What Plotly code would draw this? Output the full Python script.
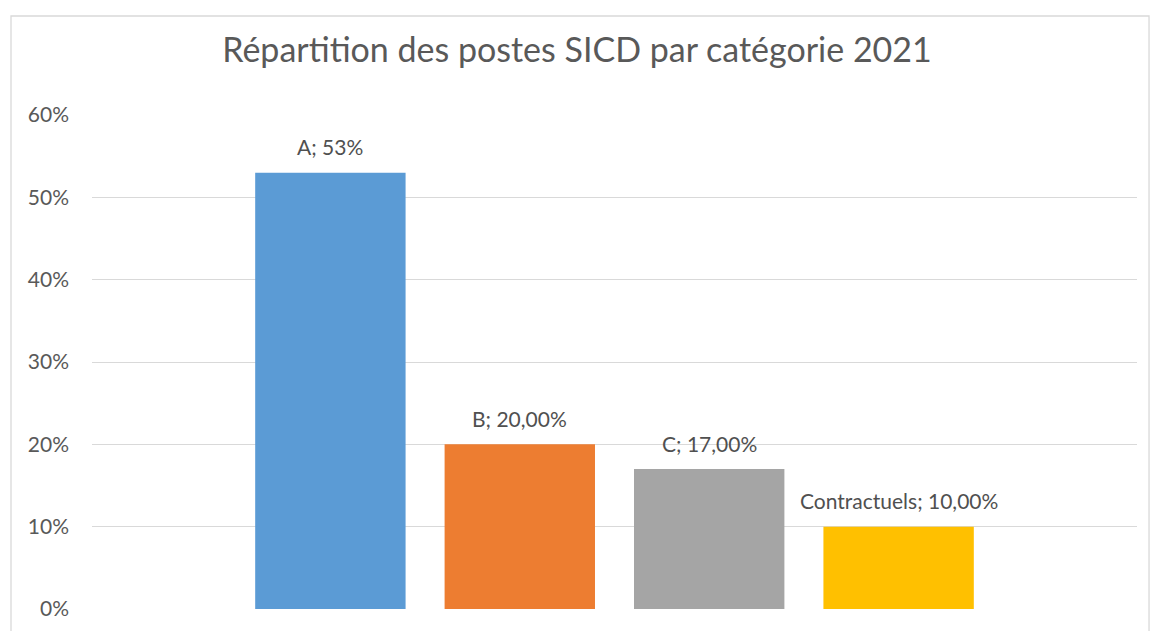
import plotly.graph_objects as go

categories = ["A", "B", "C", "Contractuels"]
values = [0.53, 0.20, 0.17, 0.10]
label_values = ["53%", "20,00%", "17,00%", "10,00%"]
colors = ["#5B9BD5", "#ED7D31", "#A5A5A5", "#FFC000"]
title_text = "Répartition des postes SICD par catégorie 2021"
tick_vals = [0, 0.1, 0.2, 0.3, 0.4, 0.5, 0.6]
tick_text = ["0%", "10%", "20%", "30%", "40%", "50%", "60%"]

FONT = "Lato"
TXT = "#595959"

fig = go.Figure()
fig.add_trace(go.Bar(
    x=categories, y=values, marker=dict(color=colors, line=dict(width=0)),
    width=0.794, showlegend=False, hoverinfo="skip",
))

for c, v, lv in zip(categories, values, label_values):
    fig.add_annotation(x=c, y=v, text=f"{c}; {lv}", showarrow=False,
                       yanchor="middle", yshift=26,
                       font=dict(family=FONT, size=21, color="#505050"))

fig.update_layout(
    width=1154, height=631,
    paper_bgcolor="white", plot_bgcolor="white",
    margin=dict(l=92, r=17, t=115, b=22, autoexpand=False),
    title=dict(text=title_text, x=0.5, xanchor="center", y=0.921, yanchor="middle",
               font=dict(family=FONT, size=34, color=TXT)),
    xaxis=dict(type="category", range=[-1.2586, 4.2586], showticklabels=False,
               showgrid=False, zeroline=False, showline=False, ticks=""),
    yaxis=dict(range=[0, 0.6], tickvals=tick_vals, ticktext=tick_text,
               showgrid=True, gridcolor="#D9D9D9", gridwidth=1.3,
               zeroline=False, showline=False, ticks="", ticklen=0,
               ticklabelstandoff=22,
               tickfont=dict(family=FONT, size=21, color=TXT)),
    shapes=[dict(type="rect", xref="paper", yref="paper",
                 x0=-0.0775, x1=1.0115, y0=-0.07, y1=1.2004,
                 line=dict(color="#D9D9D9", width=1.3), fillcolor="rgba(0,0,0,0)",
                 layer="below")],
)

fig.write_html("out.html", config={"displayModeBar": False},
               post_script="document.body.style.margin='0';document.body.style.overflow='hidden';")
